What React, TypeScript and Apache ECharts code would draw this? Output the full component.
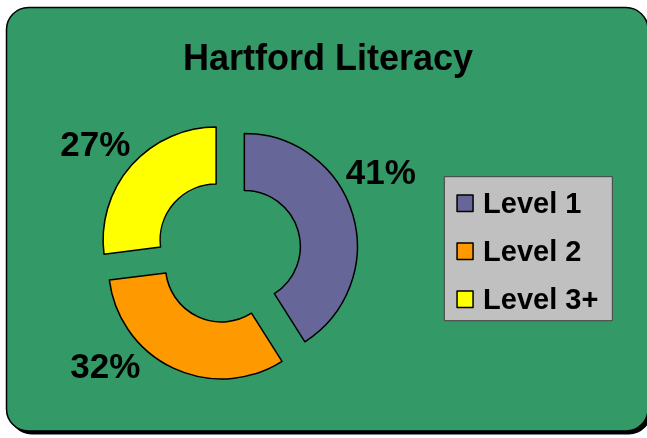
import React, { useEffect, useRef } from "react";
import * as echarts from "echarts";

const categories = ["Level 1", "Level 2", "Level 3+"];
const values = [41, 32, 27];
const colors = ["#666699", "#FF9900", "#FFFF00"];
const labelNudgeX = [-7, -33, -1];
const labelNudgeY = [-43, -3, -22];

const FONT = "'Liberation Sans', Arial, sans-serif";

export default function App() {
  const ref = useRef<HTMLDivElement>(null);
  useEffect(() => {
    const chart = echarts.init(ref.current!, null, { renderer: "svg" });
    chart.setOption({
      animation: false,
      graphic: [
        {
          type: "rect",
          z: 0,
          silent: true,
          shape: { x: 9.5, y: 11, width: 641.5, height: 423.5, r: 22 },
          style: { fill: "#000" },
        },
        {
          type: "rect",
          z: 1,
          silent: true,
          shape: { x: 6.5, y: 7.5, width: 641.5, height: 423.5, r: 22 },
          style: { fill: "#339966", stroke: "#000", lineWidth: 1.5 },
        },
      ],
      title: {
        text: "Hartford Literacy",
        left: 183,
        top: 39.5,
        padding: 0,
        textStyle: { fontSize: 36, fontWeight: "bold", fontFamily: FONT, color: "#000" },
      },
      legend: {
        data: categories,
        orient: "vertical",
        left: 444.3,
        top: 176.7,
        backgroundColor: "#C0C0C0",
        borderColor: "#404040",
        borderWidth: 1,
        padding: [9, 14, 4, 12],
        itemGap: 13,
        itemWidth: 16,
        itemHeight: 16.5,
        icon: "rect",
        selectedMode: false,
        itemStyle: { borderColor: "#000", borderWidth: 1.5 },
        textStyle: {
          fontSize: 29,
          fontWeight: "bold",
          fontFamily: FONT,
          color: "#000",
          lineHeight: 30,
          padding: [0, 0, 5, 5],
        },
      },
      series: [
        {
          type: "pie",
          center: [228.5, 251],
          radius: [56, 113],
          startAngle: 90,
          clockwise: true,
          selectedMode: "multiple",
          selectedOffset: 16.5,
          avoidLabelOverlap: false,
          itemStyle: { borderColor: "#000", borderWidth: 1.5 },
          select: { itemStyle: { borderColor: "#000", borderWidth: 1.5 } },
          emphasis: { disabled: true },
          label: {
            show: true,
            position: "outside",
            formatter: (p: any) => p.value + "%",
            color: "#000",
            fontSize: 35,
            fontWeight: "bold",
            fontFamily: FONT,
            distanceToLabelLine: 0,
          },
          labelLine: { show: false, length: 0, length2: 0 },
          labelLayout: (p: any) => ({
            dx: labelNudgeX[p.dataIndex],
            dy: labelNudgeY[p.dataIndex],
          }),
          data: categories.map((name, i) => ({
            name,
            value: values[i],
            selected: true,
            itemStyle: { color: colors[i] },
          })),
        },
      ],
    });
    return () => chart.dispose();
  }, []);
  return (
    <div
      ref={ref}
      style={{ position: "fixed", left: 0, top: 0, width: 647, height: 438 }}
    />
  );
}
